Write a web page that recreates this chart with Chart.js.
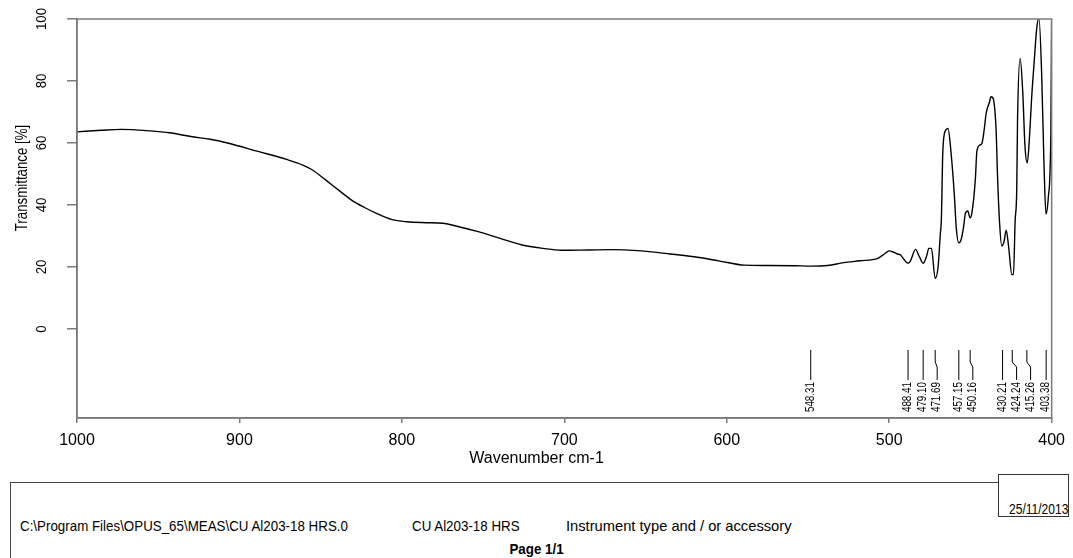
<!DOCTYPE html>
<html>
<head>
<meta charset="utf-8">
<script src="https://cdn.jsdelivr.net/npm/chart.js@4.4.1/dist/chart.umd.min.js"></script>
<style>
  html, body { margin: 0; padding: 0; background: #fff; }
  #page { position: relative; width: 1073px; height: 558px; overflow: hidden; background: #fff; }
  #chartWrap { position: absolute; left: 0; top: 0; width: 1073px; height: 470px; }
  .ft { position: absolute; font-family: "Liberation Sans", Arial, sans-serif; font-size: 15px; line-height: 18px; color: #000; white-space: nowrap; transform: scaleX(0.89); transform-origin: 0 50%; }
  .hline { position: absolute; background: #444; }
  #dateBox { position: absolute; left: 998px; top: 474px; width: 71px; height: 43px; border: 1px solid #333; box-sizing: border-box; }
</style>
</head>
<body>
<div id="page">
  <div id="chartWrap"><canvas id="c"></canvas></div>
  <div class="hline" style="left:10px; top:482px; width:988px; height:1px;"></div>
  <div class="hline" style="left:10px; top:482px; width:1px; height:76px;"></div>
  <div id="dateBox"></div>
  <div class="ft" style="left:1009px; top:500px; font-size:14px; transform:scaleX(0.86);">25/11/2013</div>
  <div class="ft" style="left:20px; top:517px;">C:\Program Files\OPUS_65\MEAS\CU Al203-18 HRS.0</div>
  <div class="ft" style="left:412px; top:517px;">CU Al203-18 HRS</div>
  <div class="ft" style="left:566px; top:517px; transform:scaleX(0.98);">Instrument type and / or accessory</div>
  <div class="ft" style="left:0; width:1073px; text-align:center; top:540px; font-weight:bold; transform-origin:50% 50%;">Page 1/1</div>
</div>
<script>
// ---- Data ----
const wavenumbers = [
  1000, 985, 973, 955, 943, 929, 918, 908, 888, 871, 861, 855, 847, 837, 831, 823, 816, 806, 797, 785, 775,
  765, 753, 740, 726, 713, 702, 685, 671, 655, 638, 620, 605, 589, 575, 558, 548, 538, 528, 518, 507,
  503, 500, 497, 495, 493, 491, 488.4, 486.9, 483.8, 481.4, 479.1, 477, 475.6, 474, 471.7, 469.9, 468.5,
  467.9, 467.0, 465.4, 463.8, 461.9, 459.9, 458.7, 457.2, 455.8, 454.2, 453.2, 451.7, 450.2, 449.1,
  447.0, 446.0, 444.0, 442.9, 441.5, 440.3, 438.2, 437.4, 436.2, 434.2, 433.3, 432.1, 430.7, 429.3,
  428.0, 426.6, 424.5, 423.5, 422.5, 421.5, 421.0, 419.4, 417.8, 416.4, 415.0, 413.7, 412.3, 410.6,
  409.2, 407.8, 406.1, 404.7, 403.5, 402.1, 400.5, 400
];
const transmittance = [
  63.6, 64.1, 64.4, 63.9, 63.3, 62.0, 61.2, 60.1, 57.2, 54.7, 52.9, 51.3, 48.1, 44.0, 41.6, 39.2, 37.4, 35.3, 34.6, 34.3, 34.1,
  33.0, 31.4, 29.3, 27.1, 26.0, 25.4, 25.5, 25.6, 25.3, 24.4, 23.3, 22.0, 20.6, 20.5, 20.4, 20.3, 20.5, 21.4, 22.0, 22.8,
  24.2, 25.2, 24.7, 24.2, 23.9, 22.5, 21.2, 22.0, 25.7, 23.3, 21.2, 23.5, 26.0, 26.0, 16.3, 20.1, 30.9,
  35.2, 57.2, 64.0, 64.7, 56.7, 43.2, 32.5, 27.8, 28.7, 33.0, 37.1, 38.1, 35.9, 37.5,
  48.1, 57.5, 59.4, 59.9, 64.4, 69.6, 73.3, 74.9, 74.6, 64.2, 49.1, 34.6, 26.8, 28.2,
  31.9, 27.1, 17.6, 17.6, 34.6, 44.8, 67.4, 87.3, 76.5, 58.8, 53.6, 61.5, 74.7, 87.3,
  97.0, 100.2, 81.4, 52.9, 37.1, 42.2, 63.1, 101
];
const peakLabels = [548.31, 488.41, 479.10, 471.69, 457.15, 450.16, 430.21, 424.24, 415.26, 403.38];
const xTicks = [1000, 900, 800, 700, 600, 500, 400];
const yTicks = [0, 20, 40, 60, 80, 100];
const xTitle = 'Wavenumber cm-1';
const yTitle = 'Transmittance [%]';

const points = wavenumbers.map((w, i) => ({ x: w, y: transmittance[i] }));

const REGULAR = '"Liberation Sans", Arial, sans-serif';
const AXIS_GRAY = '#7a7a7a';

function rotatedText(ctx, text, x, y, font, squeeze, align, baseline) {
  ctx.save();
  ctx.translate(x, y);
  ctx.rotate(-Math.PI / 2);
  ctx.scale(squeeze, 1);
  ctx.font = font;
  ctx.textAlign = align;
  ctx.textBaseline = baseline;
  ctx.fillText(text, 0, 0);
  ctx.restore();
}

const decor = {
  id: 'decor',
  afterDatasetsDraw(chart) {
    const { ctx, chartArea: a, scales: { x, y } } = chart;
    ctx.save();
    // frame
    ctx.strokeStyle = AXIS_GRAY;
    ctx.lineWidth = 1.5;
    ctx.strokeRect(a.left, a.top, a.right - a.left, a.bottom - a.top);

    ctx.fillStyle = '#000';
    // y tick labels (rotated)
    yTicks.forEach(v => {
      rotatedText(ctx, String(v), a.left - 31, y.getPixelForValue(v), '14px ' + REGULAR, 0.94, 'center', 'alphabetic');
    });

    // y title
    const midY = (y.getPixelForValue(yTicks[0]) + y.getPixelForValue(yTicks[yTicks.length - 1])) / 2 + 4;
    rotatedText(ctx, yTitle, a.left - 50, midY, '16px ' + REGULAR, 0.83, 'center', 'alphabetic');

    // x title centred on page
    ctx.font = '16px ' + REGULAR;
    ctx.textAlign = 'center';
    ctx.textBaseline = 'middle';
    ctx.fillText(xTitle, chart.width / 2, a.bottom + 41);

    // peak markers
    const sorted = peakLabels.slice().sort((p, q) => q - p);
    let prev = -Infinity;
    const topY = a.bottom - 68, bendA = a.bottom - 56, bendB = a.bottom - 51, botY = a.bottom - 38;
    ctx.strokeStyle = '#000';
    ctx.lineWidth = 1;
    sorted.forEach(p => {
      const px = x.getPixelForValue(p);
      const lx = Math.max(px, prev + 14);
      prev = lx;
      ctx.beginPath();
      ctx.moveTo(px, topY);
      ctx.lineTo(px, bendA);
      ctx.lineTo(lx, bendB);
      ctx.lineTo(lx, botY);
      ctx.stroke();
      rotatedText(ctx, p.toFixed(2), lx, botY + 2, '12px ' + REGULAR, 0.82, 'right', 'middle');
    });
    ctx.restore();
  }
};

new Chart(document.getElementById('c'), {
  type: 'line',
  data: {
    datasets: [{
      data: points,
      borderColor: '#000',
      borderWidth: 1.4,
      pointRadius: 0,
      fill: false,
      cubicInterpolationMode: 'monotone'
    }]
  },
  options: {
    responsive: true,
    maintainAspectRatio: false,
    animation: false,
    events: [],
    layout: { padding: { left: 0, top: 19, right: 18, bottom: 0 } },
    plugins: { legend: { display: false }, tooltip: { enabled: false }, title: { display: false } },
    scales: {
      x: {
        type: 'linear',
        reverse: true,
        min: 400,
        max: 1000,
        afterBuildTicks: s => { s.ticks = xTicks.map(v => ({ value: v })); },
        afterFit: s => { s.height = 52; },
        grid: { drawOnChartArea: false, drawTicks: true, tickLength: 5, color: AXIS_GRAY, lineWidth: 1.5 },
        border: { display: true, color: AXIS_GRAY, width: 1.5 },
        ticks: { color: '#000', font: { family: REGULAR, size: 16 }, padding: 8, maxRotation: 0, minRotation: 0, callback: v => String(v) }
      },
      y: {
        type: 'linear',
        min: -28.7,
        max: 100,
        afterBuildTicks: s => { s.ticks = yTicks.map(v => ({ value: v })); },
        afterFit: s => { s.width = 77; },
        grid: { drawOnChartArea: false, drawTicks: true, tickLength: 10, color: AXIS_GRAY, lineWidth: 1.5 },
        border: { display: true, color: AXIS_GRAY, width: 1.5 },
        ticks: { display: false }
      }
    }
  },
  plugins: [decor]
});
</script>
</body>
</html>
